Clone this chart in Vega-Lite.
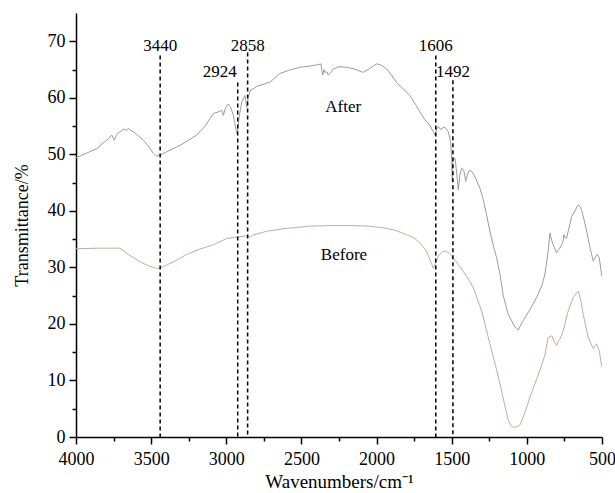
{
  "$schema": "https://vega.github.io/schema/vega-lite/v6.json",
  "width": 526,
  "height": 424,
  "autosize": {"type": "none"},
  "padding": {"left": 76, "top": 13, "right": 13, "bottom": 56},
  "background": "white",
  "config": {"view": {"stroke": null}, "font": "Liberation Serif"},
  "datasets": {
    "spectra": [
      {"sample":"After","wavenumber":4000,"t":49.4},{"sample":"After","wavenumber":3930,"t":50.2},{"sample":"After","wavenumber":3862,"t":51.0},{"sample":"After","wavenumber":3820,"t":52.0},{"sample":"After","wavenumber":3796,"t":52.5},{"sample":"After","wavenumber":3762,"t":53.4},{"sample":"After","wavenumber":3745,"t":52.5},{"sample":"After","wavenumber":3730,"t":53.5},{"sample":"After","wavenumber":3707,"t":54.0},{"sample":"After","wavenumber":3680,"t":54.5},{"sample":"After","wavenumber":3665,"t":54.2},{"sample":"After","wavenumber":3652,"t":54.6},{"sample":"After","wavenumber":3635,"t":54.2},{"sample":"After","wavenumber":3619,"t":54.0},{"sample":"After","wavenumber":3590,"t":53.4},{"sample":"After","wavenumber":3552,"t":52.5},{"sample":"After","wavenumber":3520,"t":51.5},{"sample":"After","wavenumber":3486,"t":50.2},{"sample":"After","wavenumber":3463,"t":49.7},{"sample":"After","wavenumber":3445,"t":49.8},{"sample":"After","wavenumber":3430,"t":50.0},{"sample":"After","wavenumber":3370,"t":50.8},{"sample":"After","wavenumber":3308,"t":51.6},{"sample":"After","wavenumber":3250,"t":52.5},{"sample":"After","wavenumber":3197,"t":53.4},{"sample":"After","wavenumber":3140,"t":55.0},{"sample":"After","wavenumber":3087,"t":57.2},{"sample":"After","wavenumber":3042,"t":57.6},{"sample":"After","wavenumber":3030,"t":57.8},{"sample":"After","wavenumber":3020,"t":56.9},{"sample":"After","wavenumber":3005,"t":58.2},{"sample":"After","wavenumber":2987,"t":58.9},{"sample":"After","wavenumber":2970,"t":58.3},{"sample":"After","wavenumber":2953,"t":56.9},{"sample":"After","wavenumber":2940,"t":55.0},{"sample":"After","wavenumber":2927,"t":53.5},{"sample":"After","wavenumber":2915,"t":56.5},{"sample":"After","wavenumber":2898,"t":59.2},{"sample":"After","wavenumber":2876,"t":60.4},{"sample":"After","wavenumber":2864,"t":58.3},{"sample":"After","wavenumber":2855,"t":60.0},{"sample":"After","wavenumber":2842,"t":61.2},{"sample":"After","wavenumber":2798,"t":62.0},{"sample":"After","wavenumber":2709,"t":62.8},{"sample":"After","wavenumber":2643,"t":64.3},{"sample":"After","wavenumber":2580,"t":64.9},{"sample":"After","wavenumber":2510,"t":65.4},{"sample":"After","wavenumber":2450,"t":65.6},{"sample":"After","wavenumber":2399,"t":65.8},{"sample":"After","wavenumber":2370,"t":66.0},{"sample":"After","wavenumber":2365,"t":65.0},{"sample":"After","wavenumber":2358,"t":64.0},{"sample":"After","wavenumber":2350,"t":65.0},{"sample":"After","wavenumber":2343,"t":64.5},{"sample":"After","wavenumber":2330,"t":64.6},{"sample":"After","wavenumber":2321,"t":64.0},{"sample":"After","wavenumber":2300,"t":64.6},{"sample":"After","wavenumber":2288,"t":65.1},{"sample":"After","wavenumber":2250,"t":65.5},{"sample":"After","wavenumber":2199,"t":65.4},{"sample":"After","wavenumber":2150,"t":65.1},{"sample":"After","wavenumber":2089,"t":64.5},{"sample":"After","wavenumber":2040,"t":65.3},{"sample":"After","wavenumber":2000,"t":66.0},{"sample":"After","wavenumber":1970,"t":65.8},{"sample":"After","wavenumber":1933,"t":65.1},{"sample":"After","wavenumber":1900,"t":64.0},{"sample":"After","wavenumber":1867,"t":62.7},{"sample":"After","wavenumber":1820,"t":61.5},{"sample":"After","wavenumber":1778,"t":60.4},{"sample":"After","wavenumber":1740,"t":58.8},{"sample":"After","wavenumber":1711,"t":57.5},{"sample":"After","wavenumber":1680,"t":56.2},{"sample":"After","wavenumber":1645,"t":55.1},{"sample":"After","wavenumber":1623,"t":54.0},{"sample":"After","wavenumber":1611,"t":53.4},{"sample":"After","wavenumber":1600,"t":54.5},{"sample":"After","wavenumber":1589,"t":54.9},{"sample":"After","wavenumber":1578,"t":54.5},{"sample":"After","wavenumber":1567,"t":54.4},{"sample":"After","wavenumber":1556,"t":54.8},{"sample":"After","wavenumber":1545,"t":54.8},{"sample":"After","wavenumber":1523,"t":54.0},{"sample":"After","wavenumber":1507,"t":52.2},{"sample":"After","wavenumber":1500,"t":49.0},{"sample":"After","wavenumber":1496,"t":45.2},{"sample":"After","wavenumber":1493,"t":48.5},{"sample":"After","wavenumber":1490,"t":49.0},{"sample":"After","wavenumber":1478,"t":49.3},{"sample":"After","wavenumber":1470,"t":47.5},{"sample":"After","wavenumber":1456,"t":43.7},{"sample":"After","wavenumber":1445,"t":46.5},{"sample":"After","wavenumber":1434,"t":47.5},{"sample":"After","wavenumber":1420,"t":47.2},{"sample":"After","wavenumber":1407,"t":45.2},{"sample":"After","wavenumber":1395,"t":46.5},{"sample":"After","wavenumber":1379,"t":47.2},{"sample":"After","wavenumber":1362,"t":46.8},{"sample":"After","wavenumber":1345,"t":46.0},{"sample":"After","wavenumber":1312,"t":44.0},{"sample":"After","wavenumber":1290,"t":42.0},{"sample":"After","wavenumber":1268,"t":39.3},{"sample":"After","wavenumber":1246,"t":36.4},{"sample":"After","wavenumber":1220,"t":33.5},{"sample":"After","wavenumber":1201,"t":31.7},{"sample":"After","wavenumber":1179,"t":28.8},{"sample":"After","wavenumber":1157,"t":25.0},{"sample":"After","wavenumber":1124,"t":21.7},{"sample":"After","wavenumber":1100,"t":20.5},{"sample":"After","wavenumber":1079,"t":19.4},{"sample":"After","wavenumber":1065,"t":19.2},{"sample":"After","wavenumber":1057,"t":18.9},{"sample":"After","wavenumber":1045,"t":19.6},{"sample":"After","wavenumber":1024,"t":20.6},{"sample":"After","wavenumber":980,"t":22.5},{"sample":"After","wavenumber":935,"t":24.7},{"sample":"After","wavenumber":900,"t":26.8},{"sample":"After","wavenumber":880,"t":28.8},{"sample":"After","wavenumber":865,"t":31.5},{"sample":"After","wavenumber":858,"t":32.9},{"sample":"After","wavenumber":846,"t":36.1},{"sample":"After","wavenumber":835,"t":34.8},{"sample":"After","wavenumber":825,"t":34.0},{"sample":"After","wavenumber":802,"t":32.6},{"sample":"After","wavenumber":780,"t":33.4},{"sample":"After","wavenumber":760,"t":34.5},{"sample":"After","wavenumber":753,"t":35.8},{"sample":"After","wavenumber":745,"t":35.2},{"sample":"After","wavenumber":735,"t":35.2},{"sample":"After","wavenumber":702,"t":39.0},{"sample":"After","wavenumber":680,"t":40.0},{"sample":"After","wavenumber":658,"t":41.1},{"sample":"After","wavenumber":647,"t":40.8},{"sample":"After","wavenumber":636,"t":40.2},{"sample":"After","wavenumber":620,"t":38.5},{"sample":"After","wavenumber":602,"t":36.4},{"sample":"After","wavenumber":580,"t":33.5},{"sample":"After","wavenumber":558,"t":31.1},{"sample":"After","wavenumber":545,"t":31.8},{"sample":"After","wavenumber":532,"t":32.3},{"sample":"After","wavenumber":518,"t":31.7},{"sample":"After","wavenumber":502,"t":28.5},
      {"sample":"Before","wavenumber":4000,"t":33.3},{"sample":"Before","wavenumber":3850,"t":33.4},{"sample":"Before","wavenumber":3707,"t":33.4},{"sample":"Before","wavenumber":3652,"t":32.3},{"sample":"Before","wavenumber":3574,"t":31.0},{"sample":"Before","wavenumber":3520,"t":30.3},{"sample":"Before","wavenumber":3463,"t":29.8},{"sample":"Before","wavenumber":3430,"t":30.0},{"sample":"Before","wavenumber":3397,"t":30.4},{"sample":"Before","wavenumber":3330,"t":31.3},{"sample":"Before","wavenumber":3263,"t":32.3},{"sample":"Before","wavenumber":3180,"t":33.2},{"sample":"Before","wavenumber":3087,"t":34.0},{"sample":"Before","wavenumber":2997,"t":35.1},{"sample":"Before","wavenumber":2920,"t":35.4},{"sample":"Before","wavenumber":2860,"t":35.6},{"sample":"Before","wavenumber":2842,"t":35.3},{"sample":"Before","wavenumber":2825,"t":35.7},{"sample":"Before","wavenumber":2731,"t":36.4},{"sample":"Before","wavenumber":2600,"t":36.9},{"sample":"Before","wavenumber":2443,"t":37.3},{"sample":"Before","wavenumber":2300,"t":37.4},{"sample":"Before","wavenumber":2177,"t":37.4},{"sample":"Before","wavenumber":2050,"t":37.3},{"sample":"Before","wavenumber":1955,"t":37.0},{"sample":"Before","wavenumber":1880,"t":36.6},{"sample":"Before","wavenumber":1800,"t":35.8},{"sample":"Before","wavenumber":1750,"t":35.2},{"sample":"Before","wavenumber":1711,"t":34.3},{"sample":"Before","wavenumber":1670,"t":33.0},{"sample":"Before","wavenumber":1640,"t":31.0},{"sample":"Before","wavenumber":1623,"t":29.9},{"sample":"Before","wavenumber":1605,"t":30.8},{"sample":"Before","wavenumber":1589,"t":32.0},{"sample":"Before","wavenumber":1560,"t":32.8},{"sample":"Before","wavenumber":1545,"t":32.9},{"sample":"Before","wavenumber":1520,"t":32.6},{"sample":"Before","wavenumber":1500,"t":32.0},{"sample":"Before","wavenumber":1460,"t":30.6},{"sample":"Before","wavenumber":1423,"t":29.3},{"sample":"Before","wavenumber":1390,"t":28.0},{"sample":"Before","wavenumber":1356,"t":26.4},{"sample":"Before","wavenumber":1301,"t":22.3},{"sample":"Before","wavenumber":1246,"t":16.5},{"sample":"Before","wavenumber":1210,"t":12.8},{"sample":"Before","wavenumber":1179,"t":9.4},{"sample":"Before","wavenumber":1150,"t":6.0},{"sample":"Before","wavenumber":1124,"t":3.0},{"sample":"Before","wavenumber":1105,"t":2.0},{"sample":"Before","wavenumber":1090,"t":1.7},{"sample":"Before","wavenumber":1070,"t":1.8},{"sample":"Before","wavenumber":1046,"t":2.1},{"sample":"Before","wavenumber":1010,"t":4.5},{"sample":"Before","wavenumber":979,"t":7.1},{"sample":"Before","wavenumber":913,"t":11.8},{"sample":"Before","wavenumber":880,"t":14.5},{"sample":"Before","wavenumber":858,"t":17.6},{"sample":"Before","wavenumber":835,"t":17.9},{"sample":"Before","wavenumber":815,"t":16.7},{"sample":"Before","wavenumber":802,"t":16.2},{"sample":"Before","wavenumber":790,"t":17.0},{"sample":"Before","wavenumber":780,"t":17.3},{"sample":"Before","wavenumber":758,"t":18.8},{"sample":"Before","wavenumber":725,"t":22.3},{"sample":"Before","wavenumber":691,"t":24.7},{"sample":"Before","wavenumber":658,"t":25.8},{"sample":"Before","wavenumber":640,"t":24.0},{"sample":"Before","wavenumber":625,"t":21.7},{"sample":"Before","wavenumber":592,"t":17.6},{"sample":"Before","wavenumber":558,"t":15.6},{"sample":"Before","wavenumber":536,"t":16.5},{"sample":"Before","wavenumber":518,"t":15.3},{"sample":"Before","wavenumber":502,"t":12.4}
    ],
    "peaks": [
      {"wavenumber":3440,"top":67.5,"label":"3440","labelY":69.2},
      {"wavenumber":2924,"top":62.7,"label":"2924","labelY":64.5},
      {"wavenumber":2858,"top":68.0,"label":"2858","labelY":69.2},
      {"wavenumber":1606,"top":67.5,"label":"1606","labelY":69.2},
      {"wavenumber":1492,"top":63.1,"label":"1492","labelY":64.5}
    ],
    "names": [
      {"wavenumber":2222,"t":58.3,"name":"After"},
      {"wavenumber":2217,"t":32.2,"name":"Before"}
    ]
  },
  "encoding": {
    "x": {
      "field": "wavenumber", "type": "quantitative",
      "scale": {"domain": [500, 4000], "reverse": true, "nice": false, "zero": false},
      "axis": {
        "title": "Wavenumbers/cm⁻¹",
        "values": [500,750,1000,1250,1500,1750,2000,2250,2500,2750,3000,3250,3500,3750,4000],
        "labelExpr": "datum.value % 500 === 0 ? datum.label : ''",
        "format": "d",
        "tickSize": {"condition": {"test": "datum.value % 500 === 0", "value": 7}, "value": 4},
        "labelFlush": false, "labelOverlap": false, "grid": false,
        "domainColor": "black", "domainWidth": 1.5, "tickColor": "black", "tickWidth": 1.5,
        "labelColor": "black", "labelFontSize": 18, "labelPadding": 6,
        "titleColor": "black", "titleFontSize": 19, "titleFontWeight": "normal", "titlePadding": 4
      }
    },
    "y": {
      "field": "t", "type": "quantitative",
      "scale": {"domain": [0, 75], "nice": false},
      "axis": {
        "title": "Transmittance/%",
        "values": [0,5,10,15,20,25,30,35,40,45,50,55,60,65,70],
        "labelExpr": "datum.value % 10 === 0 ? datum.label : ''",
        "tickSize": {"condition": {"test": "datum.value % 10 === 0", "value": 7}, "value": 4},
        "labelOverlap": false, "grid": false,
        "domainColor": "black", "domainWidth": 1.5, "tickColor": "black", "tickWidth": 1.5,
        "labelColor": "black", "labelFontSize": 18, "labelPadding": 4,
        "titleColor": "black", "titleFontSize": 18, "titleFontWeight": "normal", "titlePadding": 16
      }
    }
  },
  "layer": [
    {
      "data": {"name": "spectra"},
      "mark": {"type": "line", "strokeWidth": 1},
      "encoding": {
        "color": {"field": "sample", "type": "nominal", "scale": {"domain": ["After", "Before"], "range": ["#9c9c9c", "#c9a8a8"]}, "legend": null}
      }
    },
    {
      "data": {"name": "peaks"},
      "mark": {"type": "rule", "color": "black", "strokeWidth": 1.5, "strokeDash": [4, 3]},
      "encoding": {
        "y": {"field": "top", "type": "quantitative"},
        "y2": {"datum": 0}
      }
    },
    {
      "data": {"name": "peaks"},
      "transform": [{"filter": "datum.label !== '2924'"}],
      "mark": {"type": "text", "fontSize": 17, "color": "black", "align": "center", "baseline": "middle"},
      "encoding": {
        "y": {"field": "labelY", "type": "quantitative"},
        "text": {"field": "label"}
      }
    },
    {
      "data": {"name": "peaks"},
      "transform": [{"filter": "datum.label === '2924'"}],
      "mark": {"type": "text", "fontSize": 17, "color": "black", "align": "right", "baseline": "middle", "dx": -1},
      "encoding": {
        "y": {"field": "labelY", "type": "quantitative"},
        "text": {"field": "label"}
      }
    },
    {
      "data": {"name": "names"},
      "mark": {"type": "text", "fontSize": 17, "color": "black", "align": "center", "baseline": "middle"},
      "encoding": {
        "text": {"field": "name"}
      }
    }
  ]
}
